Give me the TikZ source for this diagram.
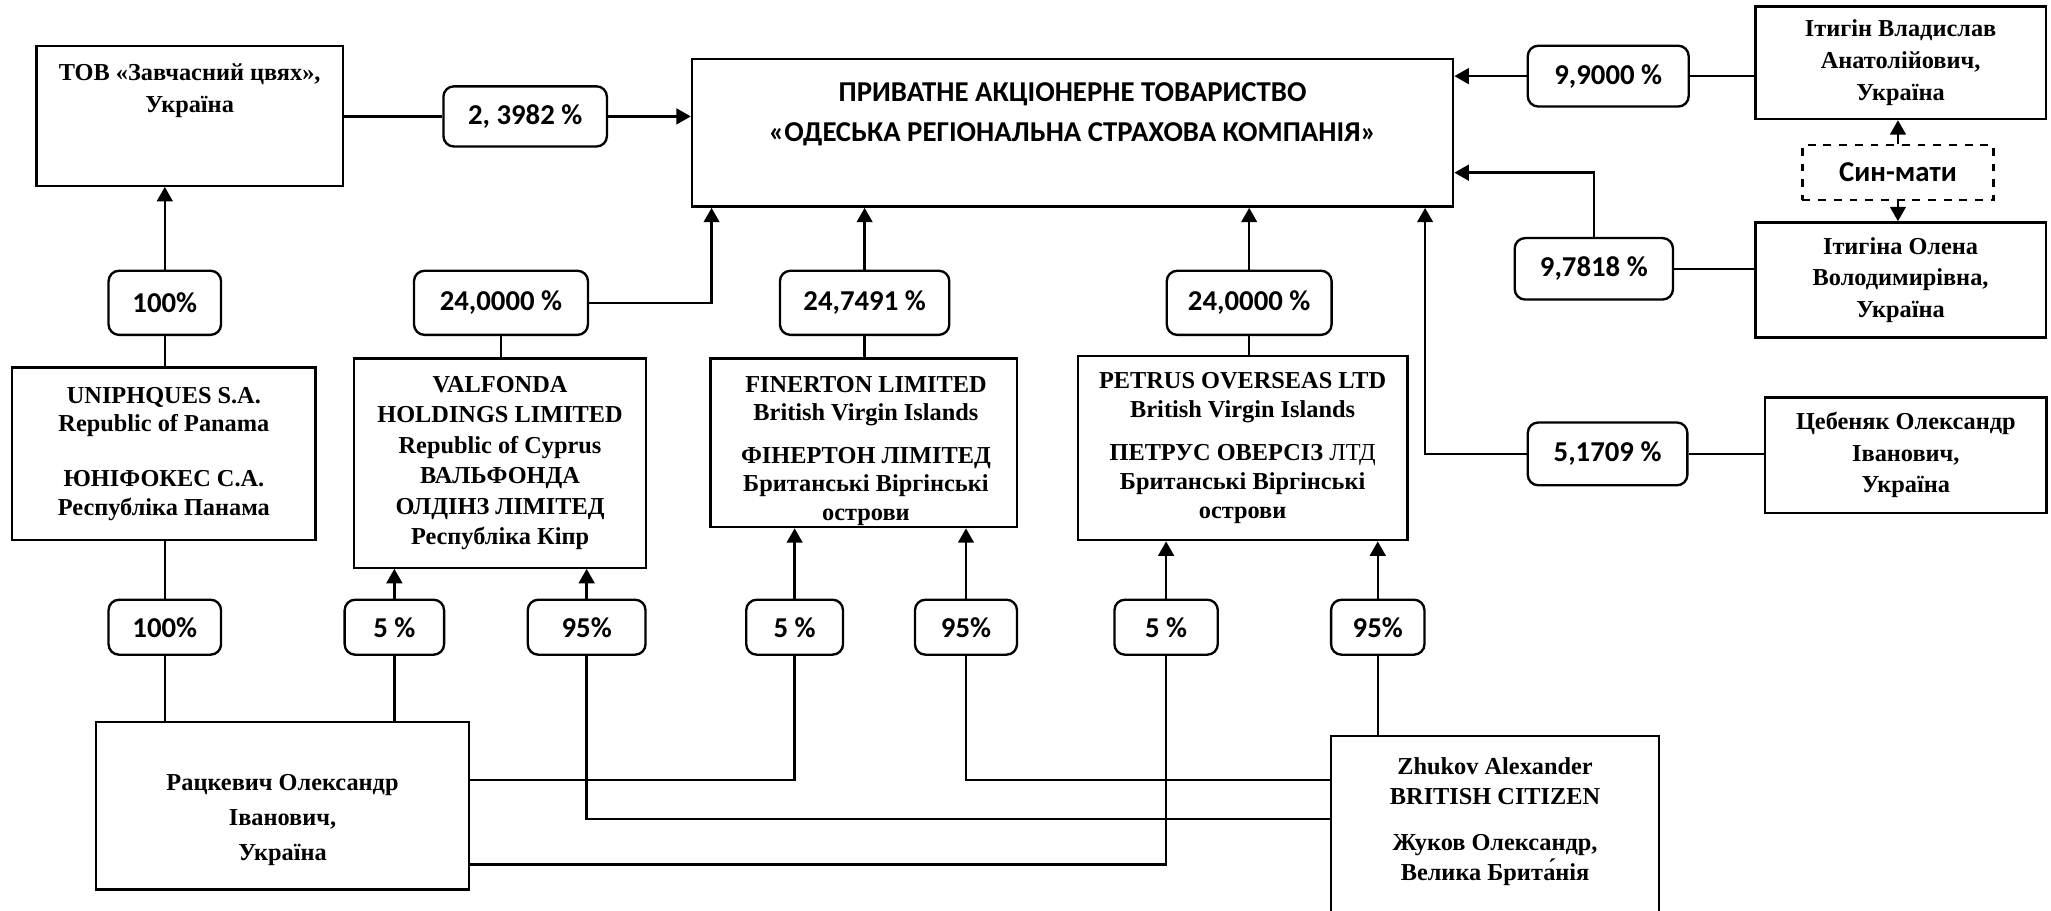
\documentclass[tikz,border=0pt]{standalone}
\usepackage{fontspec}
\setmainfont{Liberation Serif}
\newfontfamily\calibri{Carlito}
\usetikzlibrary{arrows.meta}

\tikzset{
  firm/.style={draw, rectangle, line width=0.9pt, align=center, inner sep=2pt,
    font=\fontsize{9.3}{12}\selectfont\bfseries},
  firmtext/.style={align=center, inner sep=0pt, font=\fontsize{9.3}{12}\selectfont\bfseries},
  share/.style={draw, line width=0.9pt, rounded corners=4pt, align=center, inner sep=0pt,
    minimum height=24.5pt, font=\calibri\fontsize{11}{13}\selectfont\bfseries},
  lowshare/.style={share, minimum height=21pt},
}

\begin{document}
\begin{tikzpicture}[x=0.5pt, y=-0.5pt, line width=0.9pt, >={Triangle[length=5.5pt,width=6pt]}]
      \useasboundingbox (0,0) rectangle (1568,696);
      % companies and persons
      \node[firm, minimum width=117pt, minimum height=53.5pt] (tov) at (145,88.5) {};
      \node[firmtext, anchor=north] (tovtext) at (145,48) {ТОВ «Завчасний цвях»,\\ Україна};
      \node[firm, minimum width=291pt, minimum height=56.5pt] (main) at (820,101.5) {};
      \node[anchor=north, align=center, inner sep=0pt,
            font=\calibri\fontsize{11}{15.25}\selectfont\bfseries] (maintext) at (820,62)
            {ПРИВАТНЕ АКЦІОНЕРНЕ ТОВАРИСТВО\\ «ОДЕСЬКА РЕГІОНАЛЬНА СТРАХОВА КОМПАНІЯ»};
      \node[firm, minimum width=111pt, minimum height=43pt, font=\fontsize{9.3}{12.3}\selectfont\bfseries]
            (itygin) at (1453,48)
            {Ітигін Владислав\\ Анатолійович,\\ Україна};
      \node[draw, dashed, line width=0.9pt, minimum width=73pt, minimum height=21pt,
            font=\calibri\fontsize{11}{13}\selectfont\bfseries] (synmaty) at (1451,132) {Син-мати};
      \node[firm, minimum width=111pt, minimum height=44pt] (itygina) at (1453,214)
            {Ітигіна Олена\\ Володимирівна,\\ Україна};
      \node[firm, minimum width=107.5pt, minimum height=44pt] (tsebeniak) at (1457,348)
            {Цебеняк Олександр\\ Іванович,\\ Україна};
      \node[firm, minimum width=116pt, minimum height=66pt, font=\fontsize{9.3}{11}\selectfont\bfseries]
            (uniphq) at (125.3,347)
            {UNIPHQUES S.A.\\ Republic of Panama\\[10pt] ЮНІФОКЕС С.А.\\ Республіка Панама};
      \node[firm, minimum width=111.7pt, minimum height=80pt, font=\fontsize{9.3}{11.6}\selectfont\bfseries]
            (valf) at (382.3,354)
            {VALFONDA\\ HOLDINGS LIMITED\\ Republic of Cyprus\\ ВАЛЬФОНДА\\ ОЛДІНЗ ЛІМІТЕД\\ Республіка Кіпр};
      \node[firm, minimum width=117pt, minimum height=64.5pt] (fin) at (660.3,338.5) {};
      \node[firmtext, anchor=north, font=\fontsize{9.3}{10.8}\selectfont\bfseries] (fintext) at (662,287)
            {FINERTON LIMITED\\ British Virgin Islands\\[5.5pt] ФІНЕРТОН ЛІМІТЕД\\ Британські Віргінські\\ острови};
      \node[firm, minimum width=126pt, minimum height=70.5pt, font=\fontsize{9.3}{11}\selectfont\bfseries]
            (petrus) at (950,342.5)
            {PETRUS OVERSEAS LTD\\ British Virgin Islands\\[5.5pt] ПЕТРУС ОВЕРСІЗ {\mdseries ЛТД}\\ Британські Віргінські\\ острови};
      \node[firm, minimum width=142.75pt, minimum height=64.15pt] (ratsk) at (216,616) {};
      \node[firmtext, anchor=north, font=\fontsize{9.3}{13.5}\selectfont\bfseries] (ratsktext) at (216,591)
            {Рацкевич Олександр\\ Іванович,\\ Україна};
      \node[firm, minimum width=125.5pt, minimum height=69.85pt] (zhukov) at (1143,632.4) {};
      \node[firmtext, anchor=north, font=\fontsize{9.3}{11.5}\selectfont\bfseries] (zhukovtext) at (1143,578.5)
            {Zhukov Alexander\\ BRITISH CITIZEN\\[6pt] Жуков Олександр,\\ Велика Брита́нія};
      % shares
      \node[share, minimum width=62.5pt, minimum height=23pt] (pTov) at (401.5,89) {2, 3982 \%};
      \node[share, minimum width=61.5pt, minimum height=23.25pt] (pItygin) at (1229.5,58.2) {9,9000 \%};
      \node[share, minimum width=60.5pt, minimum height=23.5pt] (pItygina) at (1218.5,205.5) {9,7818 \%};
      \node[share, minimum width=61pt, minimum height=24pt] (pTseb) at (1229,347) {5,1709 \%};
      \node[share, minimum width=43pt] (pUni) at (126,231.5) {100\%};
      \node[share, minimum width=66.5pt] (pValf) at (383,231.5) {24,0000 \%};
      \node[share, minimum width=64.75pt] (pFin) at (661,231.5) {24,7491 \%};
      \node[share, minimum width=63pt] (pPetrus) at (955,231.5) {24,0000 \%};
      \node[lowshare, minimum width=43pt] (pRU) at (126,479.5) {100\%};
      \node[lowshare, minimum width=38pt] (pRV) at (301.5,479.5) {5 \%};
      \node[lowshare, minimum width=45pt] (pZV) at (448.5,479.5) {95\%};
      \node[lowshare, minimum width=37pt] (pRF) at (607.5,479.5) {5 \%};
      \node[lowshare, minimum width=39pt] (pZF) at (738.5,479.5) {95\%};
      \node[lowshare, minimum width=39.5pt] (pRP) at (891.5,479.5) {5 \%};
      \node[lowshare, minimum width=35.7pt] (pZP) at (1053.3,479.5) {95\%};
      % bends
      \coordinate (jValf) at (544,231.5);
      \coordinate (jItygina) at (1218.5,132);
      \coordinate (jTseb) at (1089.5,347);
      \coordinate (jZV) at (448.5,626);
      \coordinate (jRF) at (607.5,596.3);
      \coordinate (jZF) at (738.5,596.3);
      \coordinate (jRP) at (891.5,661);
      % links to the insurer
      \draw (tov.east |- pTov) -- (pTov.west);
      \draw[->] (pTov.east) -- (main.west |- pTov);
      \draw (itygin.west |- pItygin) -- (pItygin.east);
      \draw[->] (pItygin.west) -- (main.east |- pItygin);
      \draw (itygina.west |- pItygina) -- (pItygina.east);
      \draw[->] (pItygina.north) -- (jItygina) -- (main.east |- jItygina);
      \draw[->] (synmaty.north) -- (itygin.south -| synmaty);
      \draw[->] (synmaty.south) -- (itygina.north -| synmaty);
      \draw (tsebeniak.west |- pTseb) -- (pTseb.east);
      \draw[->] (pTseb.west) -- (jTseb) -- (main.south -| jTseb);
      \draw (uniphq.north -| pUni) -- (pUni.south);
      \draw[->] (pUni.north) -- (tov.south -| pUni);
      \draw (valf.north -| pValf) -- (pValf.south);
      \draw[->] (pValf.east) -- (jValf) -- (main.south -| jValf);
      \draw (fin.north -| pFin) -- (pFin.south);
      \draw[->] (pFin.north) -- (main.south -| pFin);
      \draw (petrus.north -| pPetrus) -- (pPetrus.south);
      \draw[->] (pPetrus.north) -- (main.south -| pPetrus);
      % owners below
      \draw (uniphq.south -| pRU) -- (pRU.north);
      \draw (pRU.south) -- (ratsk.north -| pRU);
      \draw[->] (pRV.north) -- (valf.south -| pRV);
      \draw (pRV.south) -- (ratsk.north -| pRV);
      \draw[->] (pZV.north) -- (valf.south -| pZV);
      \draw (pZV.south) -- (jZV) -- (zhukov.west |- jZV);
      \draw[->] (pRF.north) -- (fin.south -| pRF);
      \draw (pRF.south) -- (jRF) -- (ratsk.east |- jRF);
      \draw[->] (pZF.north) -- (fin.south -| pZF);
      \draw (pZF.south) -- (jZF) -- (zhukov.west |- jZF);
      \draw[->] (pRP.north) -- (petrus.south -| pRP);
      \draw (pRP.south) -- (jRP) -- (ratsk.east |- jRP);
      \draw[->] (pZP.north) -- (petrus.south -| pZP);
      \draw (pZP.south) -- (zhukov.north -| pZP);
\end{tikzpicture}
\end{document}
